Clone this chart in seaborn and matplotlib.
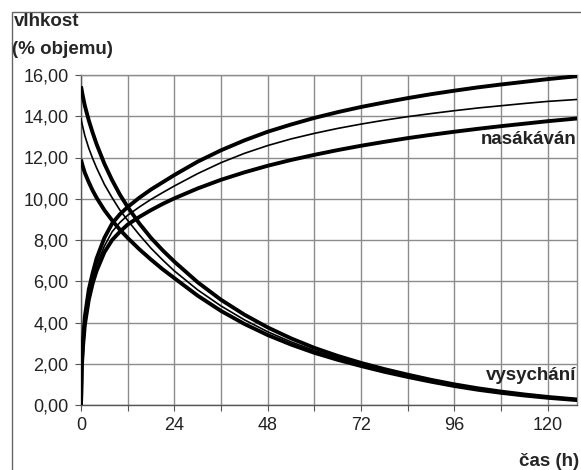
import numpy as np
import pandas as pd
import seaborn as sns
import matplotlib.pyplot as plt
from matplotlib.patches import Rectangle
from matplotlib.ticker import FuncFormatter, MultipleLocator

# ─────────────────────────────────────────
# Data
# ─────────────────────────────────────────
hours = [0, 0.2, 0.5, 1, 2, 3, 4, 6, 8, 10, 12, 15, 18, 21, 24, 30, 36, 42, 48,
         54, 60, 66, 72, 78, 84, 90, 96, 102, 108, 114, 120, 128]

# nasakavani (wetting)
wet_upper = [0, 2.0, 3.1, 4.3, 5.6, 6.4, 7.1, 8.1, 8.8, 9.25, 9.6, 10.05, 10.45, 10.8, 11.15, 11.8,
             12.35, 12.83, 13.25, 13.6, 13.92, 14.2, 14.45, 14.67, 14.88, 15.07, 15.24, 15.4,
             15.54, 15.67, 15.8, 15.95]
wet_mid = [0, 1.9, 2.9, 4.1, 5.4, 6.2, 6.8, 7.7, 8.4, 8.85, 9.2, 9.6, 9.97, 10.3, 10.62, 11.22,
           11.75, 12.2, 12.58, 12.9, 13.17, 13.41, 13.62, 13.81, 13.98, 14.13, 14.27, 14.4,
           14.51, 14.62, 14.72, 14.82]
wet_lower = [0, 1.8, 2.8, 3.9, 5.1, 5.9, 6.5, 7.4, 8.0, 8.4, 8.75, 9.12, 9.45, 9.75, 10.02, 10.5,
             10.92, 11.28, 11.6, 11.88, 12.13, 12.36, 12.57, 12.76, 12.94, 13.1, 13.25, 13.39,
             13.52, 13.64, 13.76, 13.9]

# vysychani (drying)
dry_upper = [15.45, 15.25, 14.95, 14.5, 13.8, 13.2, 12.65, 11.7, 10.9, 10.2, 9.6, 8.8, 8.1, 7.5,
             6.95, 5.95, 5.1, 4.38, 3.76, 3.23, 2.77, 2.38, 2.04, 1.74, 1.47, 1.22, 1.0, 0.81,
             0.65, 0.51, 0.39, 0.26]
dry_mid = [13.9, 13.7, 13.45, 13.05, 12.45, 11.95, 11.5, 10.7, 10.05, 9.45, 8.95, 8.25, 7.6, 7.03,
           6.5, 5.58, 4.8, 4.13, 3.55, 3.06, 2.64, 2.28, 1.96, 1.67, 1.41, 1.17, 0.96, 0.78,
           0.62, 0.49, 0.37, 0.25]
dry_lower = [11.9, 11.75, 11.55, 11.25, 10.8, 10.4, 10.05, 9.45, 8.95, 8.5, 8.1, 7.55, 7.05, 6.58,
             6.15, 5.3, 4.56, 3.93, 3.39, 2.93, 2.53, 2.19, 1.89, 1.61, 1.36, 1.13, 0.92, 0.74,
             0.59, 0.46, 0.35, 0.23]

x_ticks = [0, 24, 48, 72, 96, 120]

series = {
    "wet_upper": (wet_upper, 2.8),
    "wet_mid": (wet_mid, 1.2),
    "wet_lower": (wet_lower, 2.8),
    "dry_upper": (dry_upper, 2.8),
    "dry_mid": (dry_mid, 1.2),
    "dry_lower": (dry_lower, 2.8),
}

# ─────────────────────────────────────────
# Plot
# ─────────────────────────────────────────
sns.set_style("white")
plt.rcParams['font.family'] = ['Liberation Sans', 'DejaVu Sans']

fig = plt.figure(figsize=(5.81, 4.70), dpi=100)
ax = fig.add_axes([81 / 581, 1 - 405 / 470, (577 - 81) / 581, (405 - 75) / 470])

for name, (vals, lw) in series.items():
    df = pd.DataFrame({"t": hours, "v": vals})
    sns.lineplot(data=df, x="t", y="v", ax=ax, color="black", linewidth=lw,
                 solid_capstyle="butt", solid_joinstyle="round", zorder=3)

ax.set_xlim(0, 127.5)
ax.set_ylim(0, 16)
ax.yaxis.set_major_locator(MultipleLocator(2))
ax.set_xticks(x_ticks)
ax.set_xticks(np.arange(12, 128, 24), minor=True)
ax.yaxis.set_major_formatter(FuncFormatter(lambda v, p: f"{v:.2f}".replace(".", ",")))

ax.grid(True, which="both", color="#8c8c8c", linewidth=1.0)
ax.tick_params(axis="both", which="both", direction="out", length=4, width=0.8,
               color="#555555", labelsize=13, pad=5, left=True, bottom=True,
               labelcolor="#222222")
ax.set_xlabel("")
ax.set_ylabel("")

for side in ["top", "right"]:
    ax.spines[side].set_color("#8c8c8c")
for side in ["left", "bottom"]:
    ax.spines[side].set_color("#555555")
for s in ax.spines.values():
    s.set_linewidth(1.0)

# Labels
fig.text(14 / 581, 1 - 22 / 470, "vlhkost", fontsize=13.5, fontweight="bold", va="center")
fig.text(12 / 581, 1 - 49 / 470, "(% objemu)", fontsize=13.5, fontweight="bold", va="center")
fig.text(579 / 581, 1 - 461 / 470, "čas (h)", fontsize=13.5, fontweight="bold", va="center", ha="right")
ax.text(127.4, 12.85, "nasákáván", fontsize=13.5, fontweight="bold", va="center", ha="right",
        color="#222222", zorder=4)
ax.text(127.4, 1.45, "vysychání", fontsize=13.5, fontweight="bold", va="center", ha="right",
        color="#222222", zorder=4)

# outer frame
fig.add_artist(Rectangle((12 / 581, -0.1), 1.2, 1.1 - 12 / 470, transform=fig.transFigure,
                         fill=False, edgecolor="#666666", linewidth=1.0))

fig.savefig("out.png", dpi=100)
